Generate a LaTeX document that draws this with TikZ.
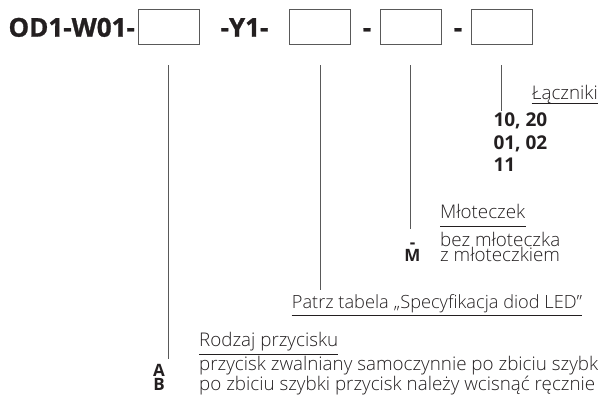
\documentclass[tikz,border=0pt]{standalone}
\usepackage{fontspec}
\setmainfont{Open Sans}[UprightFont={* Light},BoldFont={* Bold}]
\newfontfamily\grubyfont{Open Sans}[UprightFont={* Bold},FakeBold=1]

\begin{document}
\begin{tikzpicture}[x=1pt,y=-1pt,
	kod/.style={font=\grubyfont\fontsize{26}{26}\selectfont,inner sep=0pt,anchor=base west,text=tekst},
	pole/.style={draw=ramka,line width=0.9pt,minimum width=61pt,minimum height=35pt,inner sep=0pt},
	opis/.style={font=\fontsize{18.8}{13.4}\selectfont,inner sep=0pt,anchor=base west,align=left,text=tekst},
	znak/.style={font=\bfseries\fontsize{17}{13.4}\selectfont,inner sep=0pt,anchor=base,text=tekst},
	linia/.style={draw=ramka,line width=0.8pt},
	podkr/.style={draw=tekst,line width=0.8pt}]

\definecolor{tekst}{rgb}{0.137,0.122,0.125}
\definecolor{ramka}{rgb}{0.35,0.35,0.35}

\useasboundingbox (0,0) rectangle (598,401);

% kod zamowieniowy
\node[kod] (nazwa) at (8.3,36.7) {OD1-W01-};
\node[kod] (y1) at (220.4,36.7) {-Y1-};
\node[kod,anchor=base] (kreska1) at (367,36.7) {-};
\node[kod,anchor=base] (kreska2) at (458,36.7) {-};

\foreach \n/\x/\y in {1/168.8/359,2/320.3/290,3/410.5/229,4/501.5/110.7}
	{
		\node[pole] (pole\n) at (\x,26.8) {};
		\coordinate (k\n) at (\x,\y);
		\draw[linia] ([yshift=-20.7pt]pole\n.south) -- (k\n);
	}

% laczniki (base = ostatnia linia)
\node[opis] (lacz) at (531.7,99.3) {Łączniki};
\draw[podkr] ([yshift=-4pt]lacz.base west) -- ([yshift=-4pt]lacz.base east);
\node[znak,font=\bfseries\fontsize{19}{22.6}\selectfont,align=left,anchor=base west] (lacznr) at (493.3,171.9) {10, 20\\01, 02\\11};

% mloteczek
\node[opis] (mlot) at (440,218.3) {Młoteczek};
\draw[podkr] ([yshift=-8pt]mlot.base west) -- ([yshift=-8pt]mlot.base east);
\node[znak,align=center] (mlotkod) at (412.5,261.7) {-\\M};
\node[opis] (mlotopis) at (440,261.7) {bez młoteczka\\z młoteczkiem};

% diody
\node[opis,font=\fontsize{18.2}{13.4}\selectfont] (patrz) at (291.7,308.3) {Patrz tabela „Specyfikacja diod LED”};
\draw[podkr] ([yshift=-7.5pt]patrz.base west) -- ([yshift=-7.5pt]patrz.base east);

% przycisk
\node[opis] (rodzaj) at (199,346.7) {Rodzaj przycisku};
\draw[podkr] ([yshift=-8pt]rodzaj.base west) -- ([yshift=-8pt]rodzaj.base east);
\node[znak,align=right,anchor=base east] (przkod) at (165,390.4) {A\\B};
\node[opis] (przopis) at (199,390.4) {przycisk zwalniany samoczynnie po zbiciu szybki\\po zbiciu szybki przycisk należy wcisnąć ręcznie};

\end{tikzpicture}
\end{document}
